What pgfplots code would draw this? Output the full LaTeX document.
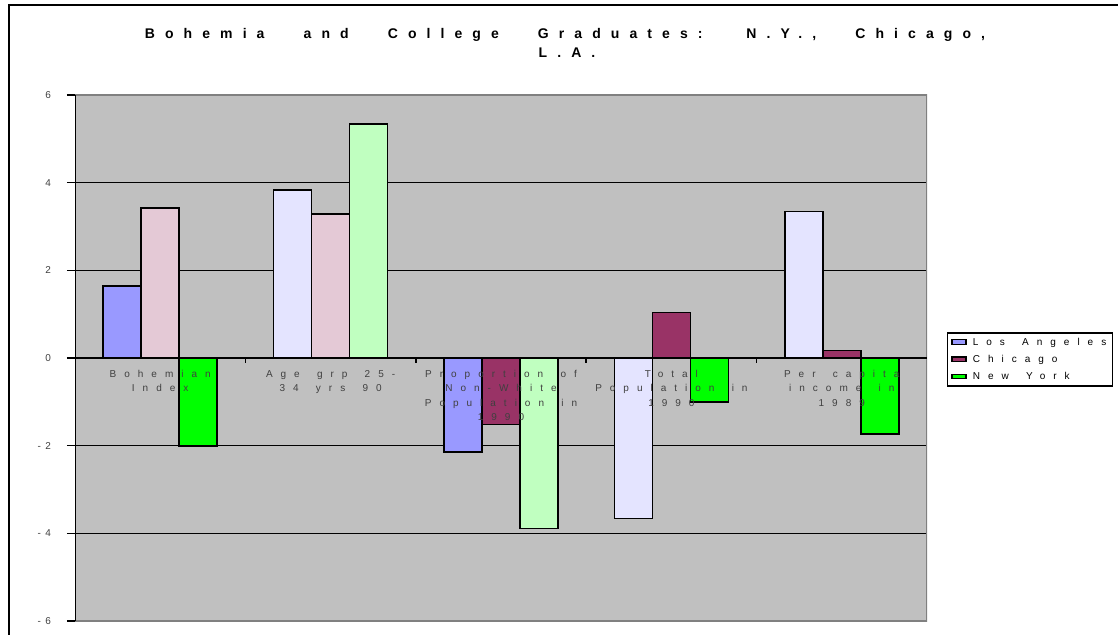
\documentclass[border=0pt]{standalone}
\usepackage{fontspec}
\setmainfont{Liberation Sans}
\usepackage{pgfplots}
\pgfplotsset{compat=1.18}

% letter-spaced faces used for the chart texts
\newfontfamily\spaced[LetterSpace=80,WordSpace=1.6]{Liberation Sans}
\newfontfamily\titlespaced[LetterSpace=72,WordSpace=2.8]{Liberation Sans Bold}

\definecolor{plotgray}{HTML}{C0C0C0}
\definecolor{framegray}{HTML}{808080}
\definecolor{labelgray}{HTML}{404040}
\definecolor{cPeri}{HTML}{9999FF}
\definecolor{cLav}{HTML}{E4E4FF}
\definecolor{cPink}{HTML}{E4C9D6}
\definecolor{cMaroon}{HTML}{993366}
\definecolor{cGreen}{HTML}{00FF00}
\definecolor{cLGreen}{HTML}{C0FFC0}

\begin{document}
\begin{tikzpicture}[x=1pt,y=1pt]
\useasboundingbox (0,0) rectangle (1118,-634);
% chart frame
\draw[line width=2pt] (9,-660) -- (9,-5.5) -- (1140,-5.5);

% title
\node[anchor=base, inner sep=0pt, font=\titlespaced\fontsize{14}{16}\selectfont]
  at (565,-38) {Bohemia and College Graduates: N.Y., Chicago,};
\node[anchor=base, inner sep=0pt, font=\titlespaced\fontsize{14}{16}\selectfont]
  at (567,-58) {L.A.};

\begin{axis}[
  at={(75pt,-621pt)}, anchor=south west,
  scale only axis, width=852pt, height=526pt,
  xmin=0.5, xmax=5.5, ymin=-6, ymax=6,
  axis background/.style={fill=plotgray},
  axis line style={draw=none},
  xtick=\empty,
  ytick={-6,-4,-2,0,2,4,6},
  yticklabels={-\hspace{4.5pt}6,-\hspace{4.5pt}4,-\hspace{4.5pt}2,0,2,4,6},
  ytick pos=left, tick align=outside,
  major tick length=8pt,
  tick style={black, line width=1.5pt},
  yticklabel style={font=\fontsize{10}{12}\selectfont, text=labelgray, xshift=-12.5pt},
  ymajorgrids, grid style={black, line width=0.8pt},
  every axis plot/.append style={line width=1.6pt},
  legend style={at={(axis description cs:1.0231,0.5494)}, anchor=north west,
    draw=black, line width=1.6pt, fill=white,
    font=\spaced\fontsize{10}{12}\selectfont,
    inner xsep=4pt, inner ysep=3pt, row sep=4.5pt},
  /tikz/every odd column/.append style={column sep=4pt},
  legend cell align=left,
]

% Los Angeles
\addplot[ybar, bar width=38pt, bar shift=-38pt, fill=cPeri, draw=black, forget plot]
  coordinates {(1,1.64) (3,-2.15)};
\addplot[ybar, bar width=38pt, bar shift=-38pt, fill=cLav, draw=black, forget plot]
  coordinates {(2,3.83) (4,-3.66) (5,3.34)};
% Chicago
\addplot[ybar, bar width=38pt, bar shift=0pt, fill=cPink, draw=black, forget plot]
  coordinates {(1,3.42) (2,3.29)};
\addplot[ybar, bar width=38pt, bar shift=0pt, fill=cMaroon, draw=black, forget plot]
  coordinates {(3,-1.52) (4,1.04) (5,0.17)};
% New York
\addplot[ybar, bar width=38pt, bar shift=38pt, fill=cGreen, draw=black, forget plot]
  coordinates {(1,-2.01) (4,-1.00) (5,-1.73)};
\addplot[ybar, bar width=38pt, bar shift=38pt, fill=cLGreen, draw=black, forget plot]
  coordinates {(2,5.34) (3,-3.89)};

\addlegendimage{legend image code/.code={\draw[line width=1.3pt, draw=black, fill=cPeri] (0pt,-2pt) rectangle (14pt,2.5pt);}}
\addlegendentry{Los Angeles}
\addlegendimage{legend image code/.code={\draw[line width=1.3pt, draw=black, fill=cMaroon] (0pt,-2pt) rectangle (14pt,2.5pt);}}
\addlegendentry{Chicago}
\addlegendimage{legend image code/.code={\draw[line width=1.3pt, draw=black, fill=cGreen] (0pt,-2pt) rectangle (14pt,2.5pt);}}
\addlegendentry{New York}

% plot-area border, left axis and zero line
\draw[framegray, line width=1.5pt] (rel axis cs:0,1) -- (rel axis cs:1,1) -- (rel axis cs:1,0) -- (rel axis cs:0,0);
\draw[black, line width=1.5pt] (rel axis cs:0,0) -- (rel axis cs:0,1);
\draw[black, line width=1.6pt] (axis cs:0.5,0) -- (axis cs:5.5,0);
\pgfplotsinvokeforeach{1.5,2.5,3.5,4.5}{
  \draw[black, line width=1.5pt] (axis cs:#1,0) -- ++(0pt,-5pt);
}

% category names
\node[anchor=north, align=center, inner sep=0pt, text=labelgray,
  font=\spaced\fontsize{10}{14.3}\selectfont] at (axis cs:1,0) [yshift=-12pt] {Bohemian\\Index};
\node[anchor=north, align=center, inner sep=0pt, text=labelgray,
  font=\spaced\fontsize{10}{14.3}\selectfont] at (axis cs:2,0) [yshift=-12pt] {Age grp 25-\\34 yrs 90};
\node[anchor=north, align=center, inner sep=0pt, text=labelgray,
  font=\spaced\fontsize{10}{14.3}\selectfont] at (axis cs:3,0) [yshift=-12pt] {Proportion of\\Non-White\\Population in\\1990};
\node[anchor=north, align=center, inner sep=0pt, text=labelgray,
  font=\spaced\fontsize{10}{14.3}\selectfont] at (axis cs:4,0) [yshift=-12pt] {Total\\Population in\\1990};
\node[anchor=north, align=center, inner sep=0pt, text=labelgray,
  font=\spaced\fontsize{10}{14.3}\selectfont] at (axis cs:5,0) [yshift=-12pt] {Per capita\\income in\\1989};
\end{axis}
\end{tikzpicture}
\end{document}
